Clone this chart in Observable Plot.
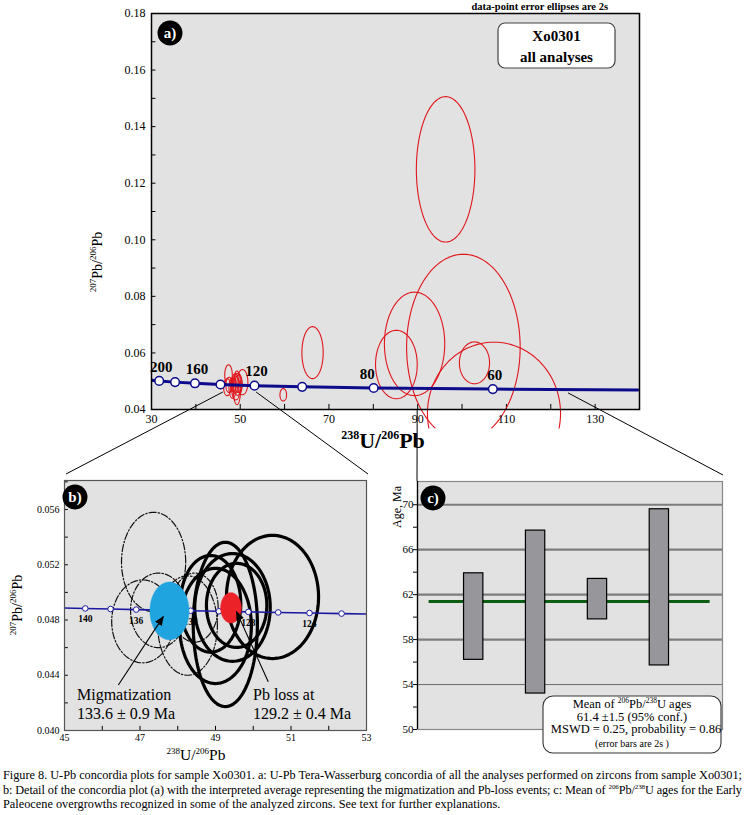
<!DOCTYPE html>
<html><head><meta charset="utf-8">
<script src="https://cdn.jsdelivr.net/npm/d3@7"></script>
<script src="https://cdn.jsdelivr.net/npm/@observablehq/plot@0.6"></script>
<style>
body{margin:0;background:#fff;}
#page{position:relative;width:746px;height:815px;overflow:hidden;background:#fff;font-family:"Liberation Serif","Times New Roman",serif;}
</style></head>
<body><div id="page"></div>
<script>
// ================= DATA =================
// Panel a: concordia (Tera-Wasserburg) nodes, ages in Ma
const concAgesA = [210, 200, 180, 160, 140, 120, 100, 80, 60, 46];
const concXA = [30.20, 31.735, 35.316, 39.792, 45.55, 53.22, 63.966, 80.081, 106.94, 139.64];
const concYA = [0.050324, 0.050108, 0.049679, 0.049256, 0.048837, 0.048423, 0.048014, 0.047611, 0.047213, 0.046937];
const markerAgesA = [200, 180, 160, 140, 120, 100, 80, 60];
const labelAgesA = [200, 160, 120, 60];
const labelAgesAEnd = [80];
const xTicksA = [30, 50, 70, 90, 110, 130];
const yTicksA = [0.04, 0.06, 0.08, 0.10, 0.12, 0.14, 0.16, 0.18];

// Panel a: data-point error ellipses (centre, semi-axes)
const ellA_cx = [96.3, 100.3, 107.2, 89.3, 85.2, 102.8, 66.3, 59.7];
const ellA_cy = [0.1249, 0.0620, 0.0386, 0.0632, 0.0559, 0.0565, 0.0601, 0.0452];
const ellA_rx = [6.6, 12.8, 15.0, 6.8, 4.7, 3.4, 2.4, 0.75];
const ellA_ry = [0.0257, 0.0329, 0.0252, 0.0183, 0.0121, 0.0074, 0.0092, 0.0022];

// Panel b: concordia nodes
const concAgesB = [142, 140, 138, 136, 134, 132, 130, 128, 126, 124, 122, 120];
const concXB = [44.90, 45.55, 46.22, 46.90, 47.61, 48.34, 49.09, 49.87, 50.66, 51.49, 52.34, 53.22];
const concYB = [0.048879, 0.048837, 0.048796, 0.048754, 0.048713, 0.048671, 0.048629, 0.048588, 0.048547, 0.048506, 0.048464, 0.048423];
const labelAgesB = [140, 136, 132, 128, 124];
const xTicksB = [45, 47, 49, 51, 53];
const yTicksB = [0.040, 0.044, 0.048, 0.052, 0.056];

// Panel b: solid (Pb-loss group) ellipses
const solid_cx = [50.51, 49.26, 49.45, 49.56, 49.00, 48.87];
const solid_cy = [0.04967, 0.04768, 0.04891, 0.04906, 0.04757, 0.04917];
const solid_rx = [1.22, 0.85, 1.00, 0.80, 0.95, 0.80];
const solid_ry = [0.00446, 0.00595, 0.00390, 0.00304, 0.00417, 0.00350];
// Panel b: dash-dot (migmatization group) ellipses
const dd_cx = [47.36, 47.07, 48.26, 47.49, 48.45];
const dd_cy = [0.0522, 0.0479, 0.0476, 0.0487, 0.0489];
const dd_rx = [0.85, 0.82, 0.79, 0.74, 0.62];
const dd_ry = [0.0036, 0.0030, 0.0036, 0.0027, 0.0025];
// Panel b: weighted averages
const avgName = ["Migmatization", "Pb loss at"];
const avgAge = ["133.6 \u00b1 0.9 Ma", "129.2 \u00b1 0.4 Ma"];
const avg_cx = [47.78, 49.41];
const avg_cy = [0.04866, 0.04888];
const avg_rx = [0.517, 0.274];
const avg_ry = [0.00209, 0.00110];
const avgColor = ["#20a4e0", "#ec2229"];

// Panel c: 206Pb/238U ages (2s error bars)
const barIdx = [1, 2, 3, 4];
const barHi = [63.9, 67.7, 63.4, 69.6];
const barLo = [56.2, 53.2, 59.8, 55.7];
const meanAge = 61.4;
const yTicksC = [50, 54, 58, 62, 66, 70];
const yMinorC = [52, 56, 60, 64, 68];
const gridC = [58, 62, 66, 70];

// ================= HELPERS =================
const FONT = "Liberation Serif";
function ellipseRows(cx, cy, rx, ry, prefix, cutY) {
  const rows = [];
  cx.forEach((c, i) => {
    const n = 120;
    for (let k = 0; k <= n; k++) {
      const a = 2 * Math.PI * k / n;
      let y = cy[i] + ry[i] * Math.sin(a);
      if (cutY !== undefined && y < cutY) y = NaN;
      rows.push({id: prefix + i, x: c + rx[i] * Math.cos(a), y});
    }
  });
  return rows;
}
const page = document.getElementById("page");
function place(el, left, top) {
  el.style.position = "absolute"; el.style.left = left + "px"; el.style.top = top + "px";
  page.appendChild(el);
}

// ================= PANEL A =================
const concRowsA = concAgesA.map((t, i) => ({t, x: concXA[i], y: concYA[i]}));
const markersA = concRowsA.filter(d => markerAgesA.includes(d.t));
const ellRowsA = ellipseRows(ellA_cx, ellA_cy, ellA_rx, ellA_ry, "a", 0.0333)
  .concat(ellipseRows(solid_cx, solid_cy, solid_rx, solid_ry, "as"))
  .concat(ellipseRows(dd_cx, dd_cy, dd_rx, dd_ry, "ad"));

const plotA = Plot.plot({
  width: 660, height: 460, marginLeft: 151, marginRight: 21, marginTop: 13, marginBottom: 51,
  style: {fontFamily: FONT, background: "transparent", overflow: "visible", color: "#000"},
  x: {domain: [30, 140]},
  y: {domain: [0.04, 0.18]},
  marks: [
    Plot.frame({fill: "#e2e2e2"}),
    Plot.ruleX(d3.range(30, 141, 10), {y1: 0.04, y2: 0.0418, stroke: "#000", strokeWidth: 1}),
    Plot.ruleY(d3.range(0.04, 0.181, 0.01), {x1: 30, x2: 31, stroke: "#000", strokeWidth: 1}),
    Plot.line(ellRowsA, {x: "x", y: "y", z: "id", stroke: "#e0161c", strokeWidth: 1.1}),
    Plot.line(concRowsA, {x: "x", y: "y", stroke: "#0b0b8c", strokeWidth: 3}),
    Plot.dot(markersA, {x: "x", y: "y", r: 4.3, fill: "white", stroke: "#0b0b8c", strokeWidth: 1.5}),
    Plot.text(markersA.filter(d => labelAgesA.includes(d.t)), {x: "x", y: "y", text: d => String(d.t), dy: -14, dx: 2, fontWeight: "bold", fontSize: 15}),
    Plot.text(markersA.filter(d => labelAgesAEnd.includes(d.t)), {x: "x", y: "y", text: d => String(d.t), dy: -14, dx: 1, textAnchor: "end", fontWeight: "bold", fontSize: 15}),
    Plot.axisX({ticks: xTicksA, tickSize: 0, tickPadding: 5, fontSize: 12, label: null}),
    Plot.axisY({ticks: yTicksA, tickSize: 0, tickPadding: 6, fontSize: 12, tickFormat: d3.format(".2f"), label: null}),
    Plot.frame({stroke: "#000", strokeWidth: 1.5})
  ]
});
place(plotA, 0, 0);

// ================= PANEL B =================
const concRowsB = concAgesB.map((t, i) => ({t, x: concXB[i], y: concYB[i]}));
const markersB = concRowsB.filter(d => d.t <= 140 && d.t >= 122);
const avgEll = ellipseRows(avg_cx, avg_cy, avg_rx, avg_ry, "m").map(d => ({...d, c: avgColor[+d.id.slice(1)]}));

const plotB = Plot.plot({
  width: 380, height: 300, marginLeft: 64, marginRight: 14, marginTop: 10, marginBottom: 40,
  style: {fontFamily: FONT, background: "transparent", overflow: "visible", color: "#000"},
  x: {domain: [45, 53]},
  y: {domain: [0.040, 0.0581]},
  marks: [
    Plot.frame({fill: "#e2e2e2"}),
    Plot.ruleY(d3.range(0.040, 0.0581, 0.002), {x1: 45, x2: 45.1, stroke: "#000"}),
    Plot.ruleX(d3.range(45, 53.01, 1), {y1: 0.040, y2: 0.0403, stroke: "#000"}),
    Plot.line(ellipseRows(dd_cx, dd_cy, dd_rx, dd_ry, "d"), {x: "x", y: "y", z: "id", stroke: "#111", strokeWidth: 1.2, strokeDasharray: "7,2,1.5,2", clip: true}),
    Plot.line(ellipseRows(solid_cx, solid_cy, solid_rx, solid_ry, "s"), {x: "x", y: "y", z: "id", stroke: "#000", strokeWidth: 3.2, clip: true}),
    Plot.line(concRowsB, {x: "x", y: "y", stroke: "#1a1aa0", strokeWidth: 1.6, clip: true}),
    Plot.dot(markersB, {x: "x", y: "y", r: 2.8, fill: "white", stroke: "#1a1aa0", strokeWidth: 1}),
    Plot.text(markersB.filter(d => labelAgesB.includes(d.t)), {x: "x", y: "y", text: d => String(d.t), dy: 11, fontWeight: "bold", fontSize: 9.5}),
    Plot.line(avgEll, {x: "x", y: "y", z: "id", fill: "c", stroke: "c", strokeWidth: 0.5}),
    Plot.axisX({ticks: xTicksB, tickSize: 0, tickPadding: 3, fontSize: 10, label: null}),
    Plot.axisY({ticks: yTicksB, tickSize: 0, tickPadding: 5, fontSize: 10, tickFormat: d3.format(".3f"), label: null}),
    Plot.frame({stroke: "#555", strokeWidth: 1.2})
  ]
});
place(plotB, 0, 470);

// ================= PANEL C =================
const bars = barIdx.map((i, k) => ({i, lo: barLo[k], hi: barHi[k]}));
const HALF = 0.156;
const plotC = Plot.plot({
  width: 366, height: 300, marginLeft: 37, marginRight: 24, marginTop: 11, marginBottom: 41,
  style: {fontFamily: FONT, background: "transparent", overflow: "visible", color: "#000"},
  x: {domain: [0.092, 5.02], axis: null},
  y: {domain: [50, 72.07]},
  marks: [
    Plot.frame({fill: "#e2e2e2"}),
    Plot.ruleY(gridC, {stroke: "#7d7d7d", strokeWidth: 2.2}),
    Plot.ruleY([54], {stroke: "#6a6a6a", strokeWidth: 1}),
    Plot.ruleY([meanAge], {x1: 0.28, x2: 4.82, stroke: "#0d5e12", strokeWidth: 3}),
    Plot.rect(bars, {x1: d => d.i - HALF, x2: d => d.i + HALF, y1: "lo", y2: "hi", fill: "#97979b", stroke: "#000", strokeWidth: 1.2}),
    Plot.axisY({ticks: yTicksC, tickSize: 4, tickPadding: 0, fontSize: 11, label: null}),
    Plot.axisY({ticks: yMinorC, tickSize: 4, tickFormat: () => "", label: null}),
    Plot.frame({stroke: "#888", strokeWidth: 1.2}),
    Plot.ruleX([0.092], {stroke: "#000", strokeWidth: 1.3})
  ]
});
place(plotC, 380, 470);

// ================= OVERLAY (annotations) =================
const ov = d3.select(page).append("svg").attr("width", 746).attr("height", 815)
  .style("position", "absolute").style("left", "0px").style("top", "0px")
  .attr("font-family", FONT);

function rich(x, y, parts, opts = {}) {
  const t = ov.append("text").attr("x", x).attr("y", y)
    .attr("text-anchor", opts.anchor || "start")
    .attr("font-weight", opts.weight || "normal").attr("fill", opts.fill || "#000");
  if (opts.transform) t.attr("transform", opts.transform);
  if (opts.textLength) t.attr("textLength", opts.textLength).attr("lengthAdjust", "spacing");
  let cur = 0;
  for (const [s, size, rise] of parts) {
    const r = rise || 0;
    t.append("tspan").attr("font-size", size).attr("dy", (-r) - cur).text(s);
    cur = -r;
  }
  return t;
}

const sxA = plotA.scale("x"), syA = plotA.scale("y");
const sxB = plotB.scale("x"), syB = plotB.scale("y");
const sxC = plotC.scale("x"), syC = plotC.scale("y");
const A = p => [sxA.apply(p[0]), syA.apply(p[1])];
const B = p => [sxB.apply(p[0]), syB.apply(p[1]) + 470];
const C = p => [sxC.apply(p[0]) + 380, syC.apply(p[1]) + 470];

// connector lines from panel a to panels b and c
const conn = [
  [A([46.2, 0.0460]), [66, 474]],
  [A([53.7, 0.0460]), [368, 474]],
  [A([124.0, 0.0457]), [723, 475]],
  [A([90, 0.04]), C([0.092, 72.07])]
];
conn.forEach(([p, q]) => ov.append("line").attr("x1", p[0]).attr("y1", p[1]).attr("x2", q[0]).attr("y2", q[1])
  .attr("stroke", "#000").attr("stroke-width", 1));

// header note
ov.append("text").attr("x", 608).attr("y", 10).attr("text-anchor", "end").attr("font-size", 10.5)
  .attr("font-weight", "bold").text("data-point error ellipses are 2s");

// panel tags
function tag(cx, cy, s) {
  ov.append("circle").attr("cx", cx).attr("cy", cy).attr("r", 12.5).attr("fill", "#000");
  ov.append("text").attr("x", cx).attr("y", cy + 5).attr("text-anchor", "middle").attr("fill", "#fff")
    .attr("font-size", 15).attr("font-weight", "bold").text(s);
}
tag(170, 33, "a)");
tag(75, 497, "b)");
tag(433, 498, "c)");

// sample box
ov.append("rect").attr("x", 498).attr("y", 23).attr("width", 117).attr("height", 45).attr("rx", 7)
  .attr("fill", "#fff").attr("stroke", "#444").attr("stroke-width", 1.2);
ov.append("text").attr("x", 556.5).attr("y", 41).attr("text-anchor", "middle").attr("font-size", 15).attr("font-weight", "bold").text("Xo0301");
ov.append("text").attr("x", 556.5).attr("y", 62).attr("text-anchor", "middle").attr("font-size", 15).attr("font-weight", "bold").text("all analyses");

// axis titles panel a
rich(383, 448, [["238", 12, 9], ["U/", 22, 0], ["206", 12, 9], ["Pb", 22, 0]], {anchor: "middle", weight: "bold"});
rich(0, 0, [["207", 9, 6], ["Pb/", 14, 0], ["206", 9, 6], ["Pb", 14, 0]], {anchor: "middle", transform: "translate(102,262) rotate(-90)"});

// axis titles panel b
rich(196, 760, [["238", 9, 6], ["U/", 15.5, 0], ["206", 9, 6], ["Pb", 15.5, 0]], {anchor: "middle"});
rich(0, 0, [["207", 9, 6], ["Pb/", 14, 0], ["206", 9, 6], ["Pb", 14, 0]], {anchor: "middle", transform: "translate(22,605) rotate(-90)"});

// panel b annotations + arrows
const defs = ov.append("defs");
defs.append("marker").attr("id", "ah").attr("viewBox", "0 0 10 10").attr("refX", 9).attr("refY", 5)
  .attr("markerWidth", 9).attr("markerHeight", 9).attr("orient", "auto-start-reverse")
  .append("path").attr("d", "M0,1L10,5L0,9Z").attr("fill", "#000");
const arrowFrom = [[46.44, 0.04326], [50.41, 0.04350]];
const arrowTo = [[47.63, 0.04821], [49.57, 0.04857]];
arrowFrom.forEach((f, i) => {
  const p = B(f), q = B(arrowTo[i]);
  ov.append("line").attr("x1", p[0]).attr("y1", p[1]).attr("x2", q[0]).attr("y2", q[1])
    .attr("stroke", "#000").attr("stroke-width", 1.1).attr("marker-end", "url(#ah)");
});
const textPos = [[77, 700], [253, 700]];
avgName.forEach((n, i) => {
  ov.append("text").attr("x", textPos[i][0]).attr("y", textPos[i][1]).attr("font-size", 16).text(n);
  ov.append("text").attr("x", textPos[i][0]).attr("y", textPos[i][1] + 18.5).attr("font-size", 16).text(avgAge[i]);
});

// panel c annotations
ov.append("text").attr("transform", "translate(401,507) rotate(-90)").attr("text-anchor", "middle")
  .attr("font-size", 12).text("Age, Ma");
ov.append("rect").attr("x", 543).attr("y", 696).attr("width", 178).attr("height", 57).attr("rx", 10)
  .attr("fill", "#fff").attr("stroke", "#333").attr("stroke-width", 1.1);
rich(632, 708, [["Mean of ", 12.5, 0], ["206", 7.5, 5], ["Pb/", 12.5, 0], ["238", 7.5, 5], ["U ages", 12.5, 0]], {anchor: "middle"});
ov.append("text").attr("x", 632).attr("y", 720.5).attr("text-anchor", "middle").attr("font-size", 12.5).text("61.4 \u00b11.5 (95% conf.)");
ov.append("text").attr("x", 636).attr("y", 733).attr("text-anchor", "middle").attr("font-size", 12.5).text("MSWD = 0.25, probability = 0.86");
ov.append("text").attr("x", 632).attr("y", 747).attr("text-anchor", "middle").attr("font-size", 10).text("(error bars are 2s )");

// caption
const CAP = 12.3;
rich(3, 779, [["Figure 8. U-Pb concordia plots for sample Xo0301. a: U-Pb Tera-Wasserburg concordia of all the analyses performed on zircons from sample Xo0301;", CAP, 0]], {textLength: 739});
rich(3, 793.5, [["b: Detail of the concordia plot (a) with the interpreted average representing the migmatization and Pb-loss events; c: Mean of ", CAP, 0], ["206", 7, 5], ["Pb/", CAP, 0], ["238", 7, 5], ["U ages for the Early", CAP, 0]], {textLength: 739});
rich(3, 808, [["Paleocene overgrowths recognized in some of the analyzed zircons. See text for further explanations.", CAP, 0]]);
</script>
</body></html>
